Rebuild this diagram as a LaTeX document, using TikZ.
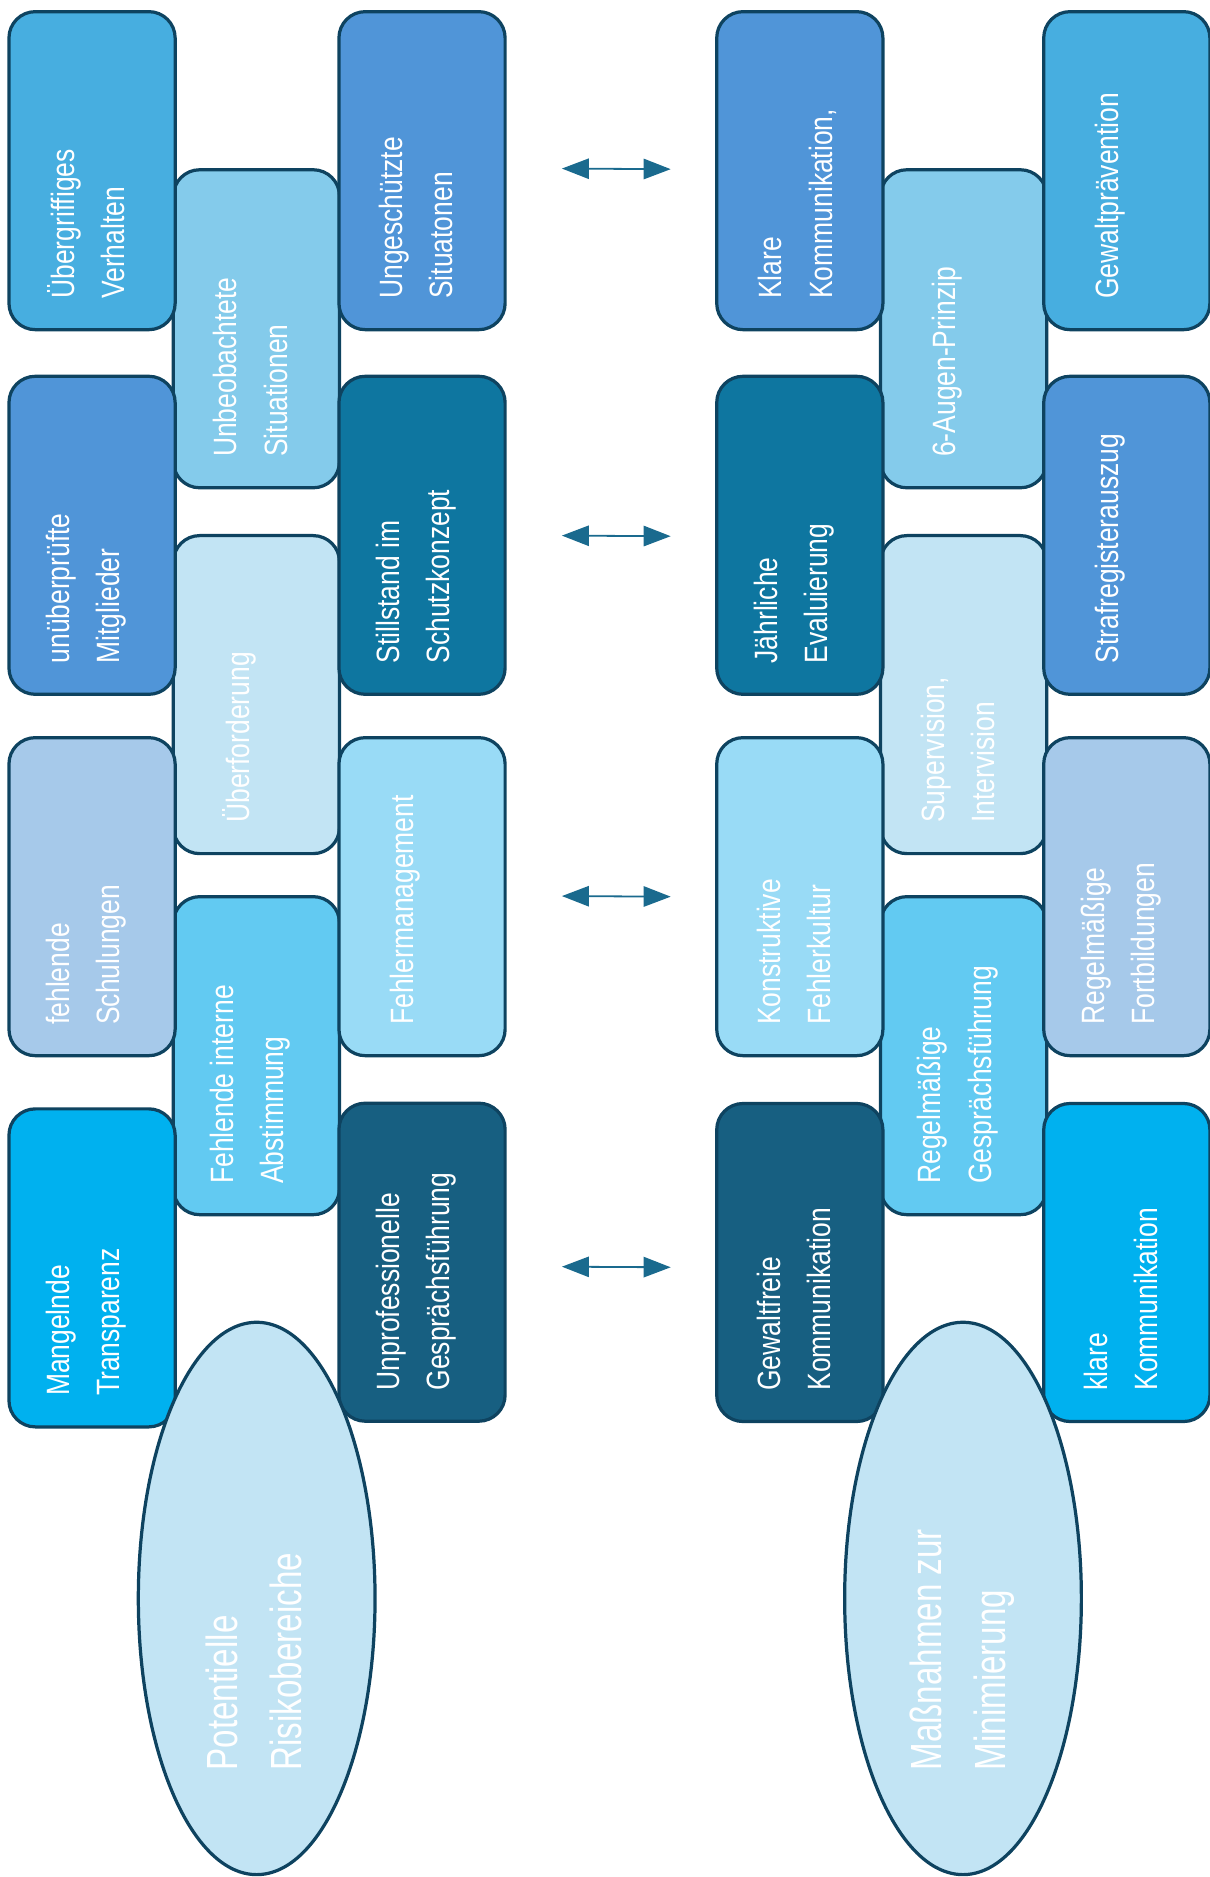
\documentclass[tikz,border=0pt]{standalone}
\usepackage{fontspec}
\setmainfont{Liberation Sans}
\newfontfamily\boxfont{Liberation Sans}[FakeStretch=0.82]
\newfontfamily\ellfont{Liberation Sans}[FakeStretch=0.76]
\usetikzlibrary{shapes.geometric,arrows.meta,calc}
\definecolor{bordc}{HTML}{0E4360}
\definecolor{arrc}{HTML}{1A6A8E}
\definecolor{cSky}{HTML}{47AEE0}
\definecolor{cMid}{HTML}{5095D8}
\definecolor{cSteel}{HTML}{A6C9EA}
\definecolor{cCyan}{HTML}{00B1EF}
\definecolor{cLsky}{HTML}{84CBEB}
\definecolor{cPale}{HTML}{C2E4F4}
\definecolor{cBright}{HTML}{62CAF2}
\definecolor{cTeal}{HTML}{0E76A0}
\definecolor{cBaby}{HTML}{99DBF6}
\definecolor{cNavy}{HTML}{175F81}
\tikzset{
  box/.style={draw=bordc, line width=2.7pt, rounded corners=22pt, minimum width=139pt, minimum height=266pt, inner sep=0pt},
  ell/.style={ellipse, draw=bordc, line width=2.7pt, fill=cPale, minimum width=198pt, minimum height=462pt, inner sep=0pt},
  txt/.style={rotate=90, anchor=west, inner sep=0pt, align=left, text=white, font=\boxfont\fontsize{27}{42}\selectfont},
  etxt/.style={rotate=90, anchor=west, inner sep=0pt, align=left, text=white, font=\ellfont\fontsize{36.5}{53.6}\selectfont},
  arr/.style={draw=arrc, line width=1.5pt, {Triangle[length=22.6pt,width=17pt]}-{Triangle[length=22.6pt,width=17pt]}}
}
\begin{document}
\begin{tikzpicture}[x=1pt,y=1pt]
\useasboundingbox (0,0) rectangle (1012,-1570);
% ---------- left: middle column ----------
\node[box, fill=cLsky]   (m11) at (214.5,-275) {};
\node[box, fill=cPale]   (m12) at (214.5,-581) {};
\node[box, fill=cBright] (m13) at (214.5,-883) {};
% ---------- left: outer columns ----------
\node[box, fill=cSky]    (l11) at (77,-142.75) {};
\node[box, fill=cMid]    (l12) at (77,-447.75) {};
\node[box, fill=cSteel]  (l13) at (77,-750) {};
\node[box, fill=cCyan]   (l14) at (77,-1060.5) {};
\node[box, fill=cMid]    (l31) at (353,-142.75) {};
\node[box, fill=cTeal]   (l32) at (353,-447.75) {};
\node[box, fill=cBaby]   (l33) at (353,-750) {};
\node[box, fill=cNavy]   (l34) at (353,-1055.75) {};
% ---------- right: middle column ----------
\node[box, fill=cLsky]   (m21) at (806,-275) {};
\node[box, fill=cPale]   (m22) at (806,-581) {};
\node[box, fill=cBright] (m23) at (806,-883) {};
% ---------- right: outer columns ----------
\node[box, fill=cMid]    (r41) at (669,-142.75) {};
\node[box, fill=cTeal]   (r42) at (669,-447.75) {};
\node[box, fill=cBaby]   (r43) at (669,-750) {};
\node[box, fill=cNavy]   (r44) at (669,-1056) {};
\node[box, fill=cSky]    (r61) at (942.5,-142.75) {};
\node[box, fill=cMid]    (r62) at (942.5,-447.75) {};
\node[box, fill=cSteel]  (r63) at (942.5,-750) {};
\node[box, fill=cCyan]   (r64) at (942.5,-1056) {};
% ---------- ellipses ----------
\node[ell] (e1) at (214.7,-1337) {};
\node[ell] (e2) at (805.5,-1337) {};
% ---------- texts ----------
\node[txt] (t11) at ($(l11.south)+(-5,27)$) {Übergriffiges\\Verhalten};
\node[txt] (t12) at ($(l12.south)+(-5,27)$) {unüberprüfte\\Mitglieder};
\node[txt] (t13) at ($(l13.south)+(-5,27)$) {fehlende\\Schulungen};
\node[txt] (t14) at ($(l14.south)+(-5,27)$) {Mangelnde\\Transparenz};
\node[txt] (tm11) at ($(m11.south)+(-5,27)$) {Unbeobachtete\\Situationen};
\node[txt] (tm12) at ($(m12.south)+(-14,27)$) {Überforderung};
\node[txt] (tm13) at ($(m13.south)+(-5,27)$) {Fehlende interne\\Abstimmung};
\node[txt] (t31) at ($(l31.south)+(-5,27)$) {Ungeschützte\\Situatonen};
\node[txt] (t32) at ($(l32.south)+(-5,27)$) {Stillstand im\\Schutzkonzept};
\node[txt] (t33) at ($(l33.south)+(-14,27)$) {Fehlermanagement};
\node[txt] (t34) at ($(l34.south)+(-5,27)$) {Unprofessionelle\\Gesprächsführung};
\node[txt] (t41) at ($(r41.south)+(-2,27)$) {Klare\\Kommunikation,};
\node[txt] (t42) at ($(r42.south)+(-5,27)$) {Jährliche\\Evaluierung};
\node[txt] (t43) at ($(r43.south)+(-5,27)$) {Konstruktive\\Fehlerkultur};
\node[txt] (t44) at ($(r44.south)+(-5,27)$) {Gewaltfreie\\Kommunikation};
\node[txt] (tm21) at ($(m21.south)+(-14,27)$) {6-Augen-Prinzip};
\node[txt] (tm22) at ($(m22.south)+(-5,27)$) {Supervision,\\Intervision};
\node[txt] (tm23) at ($(m23.south)+(-5,27)$) {Regelmäßige\\Gesprächsführung};
\node[txt] (t61) at ($(r61.south)+(-14,27)$) {Gewaltprävention};
\node[txt] (t62) at ($(r62.south)+(-14,27)$) {Strafregisterauszug};
\node[txt] (t63) at ($(r63.south)+(-5,27)$) {Regelmäßige\\Fortbildungen};
\node[txt] (t64) at ($(r64.south)+(-5,27)$) {klare\\Kommunikation};
\node[etxt] (te1) at (212.7,-1481) {Potentielle\\Risikobereiche};
\node[etxt] (te2) at (804.5,-1481) {Maßnahmen zur\\Minimierung};
% ---------- arrows ----------
\coordinate (a1l) at (470,-141);  \coordinate (a1r) at (561,-141.5);
\coordinate (a2l) at (470,-448);  \coordinate (a2r) at (561,-448.5);
\coordinate (a3l) at (470,-749.5);\coordinate (a3r) at (561,-750);
\coordinate (a4l) at (470,-1059.5);\coordinate (a4r) at (561,-1060);
\draw[arr] (a1l) -- (a1r);
\draw[arr] (a2l) -- (a2r);
\draw[arr] (a3l) -- (a3r);
\draw[arr] (a4l) -- (a4r);
\end{tikzpicture}
\end{document}
